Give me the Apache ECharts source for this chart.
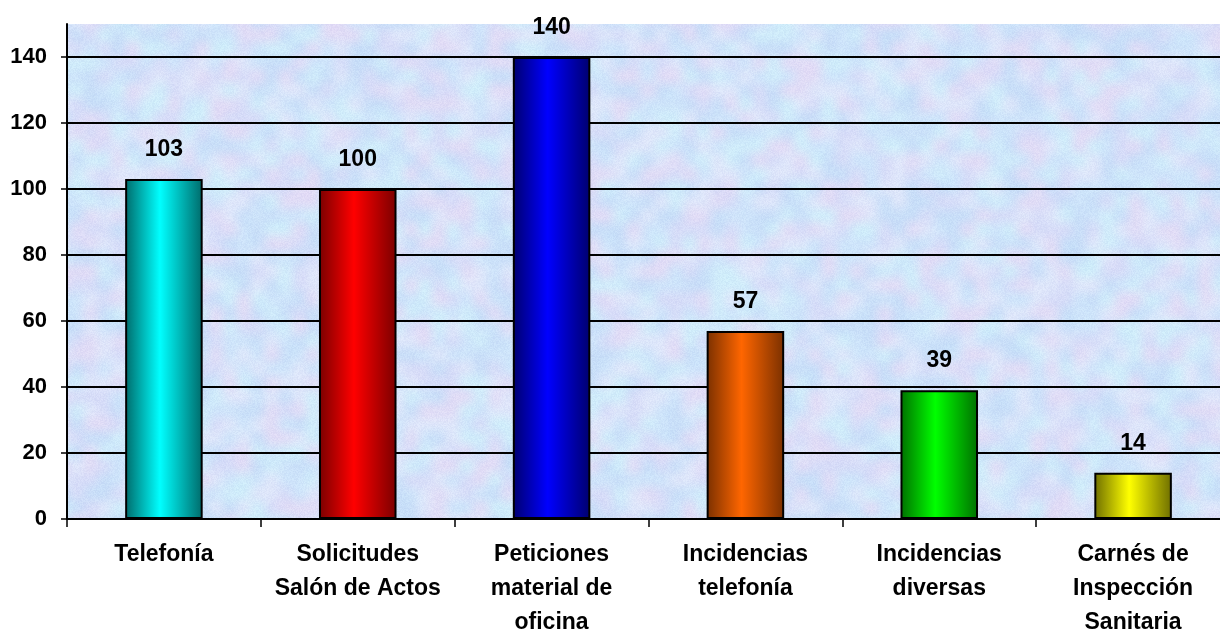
<!DOCTYPE html>
<html>
<head>
<meta charset="utf-8">
<script src="https://cdn.jsdelivr.net/npm/echarts@6/dist/echarts.min.js"></script>
<style>
  html, body { margin: 0; padding: 0; background: #ffffff; }
  #chart { width: 1220px; height: 633px; }
</style>
</head>
<body>
<div id="chart"></div>
<script>
// Requests handled per service area
const categories = [
  'Telefonía',
  'Solicitudes\nSalón de Actos',
  'Peticiones\nmaterial de\noficina',
  'Incidencias\ntelefonía',
  'Incidencias\ndiversas',
  'Carnés de\nInspección\nSanitaria'
];
const values = [103, 100, 140, 57, 39, 14];
const yTicks = [0, 20, 40, 60, 80, 100, 120, 140];

// Bar shades: [edge, centre]
const barShades = [
  ['#006a6a', '#00ffff'],
  ['#7a0000', '#ff0000'],
  ['#00006e', '#0000ff'],
  ['#7a3000', '#ff6600'],
  ['#007000', '#00ff00'],
  ['#6e6e00', '#ffff00']
];

// Soft pastel "stationery" texture for the plotting area (seeded, so it is the same every time)
function makeTexture(w, h) {
  let s = 12345;
  const rnd = () => { s = (s * 1103515245 + 12345) & 0x7fffffff; return s / 0x7fffffff; };
  const palette = [[206, 228, 250], [214, 220, 248], [224, 220, 246], [208, 236, 250], [200, 222, 248], [222, 230, 250]];
  const cell = 14;
  const small = document.createElement('canvas');
  const sw = Math.ceil(w / cell), sh = Math.ceil(h / cell);
  small.width = sw; small.height = sh;
  const sctx = small.getContext('2d');
  const sd = sctx.createImageData(sw, sh);
  for (let i = 0; i < sw * sh; i++) {
    const c = palette[Math.floor(rnd() * palette.length)];
    sd.data[i * 4] = c[0]; sd.data[i * 4 + 1] = c[1]; sd.data[i * 4 + 2] = c[2]; sd.data[i * 4 + 3] = 255;
  }
  sctx.putImageData(sd, 0, 0);
  const cv = document.createElement('canvas');
  cv.width = w; cv.height = h;
  const ctx = cv.getContext('2d');
  ctx.imageSmoothingEnabled = true;
  ctx.imageSmoothingQuality = 'high';
  ctx.drawImage(small, 0, 0, w, h);
  const img = ctx.getImageData(0, 0, w, h);
  for (let i = 0; i < w * h; i++) {
    const n = (rnd() - 0.5) * 12;
    img.data[i * 4] = Math.max(0, Math.min(255, img.data[i * 4] + n));
    img.data[i * 4 + 1] = Math.max(0, Math.min(255, img.data[i * 4 + 1] + n));
    img.data[i * 4 + 2] = Math.max(0, Math.min(255, img.data[i * 4 + 2] + n * 0.5));
  }
  ctx.putImageData(img, 0, 0);
  return cv;
}

const FONT = '"Liberation Sans", Arial, sans-serif';
const chart = echarts.init(document.getElementById('chart'), null, { renderer: 'canvas' });

chart.setOption({
  animation: false,
  backgroundColor: '#ffffff',
  grid: {
    left: 67, top: 24, width: 1163, height: 495,
    outerBoundsMode: 'none',
    containLabel: false,
    show: true,
    borderWidth: 0,
    backgroundColor: { image: makeTexture(1240, 640), repeat: 'no-repeat' }
  },
  xAxis: {
    type: 'category',
    data: categories,
    axisLine: { lineStyle: { color: '#000', width: 2 } },
    axisTick: { show: true, alignWithLabel: false, length: 8, lineStyle: { color: '#000', width: 1.5 } },
    axisLabel: {
      interval: 0, margin: 19, color: '#000',
      fontFamily: FONT, fontWeight: 'bold', fontSize: 23, lineHeight: 34
    }
  },
  yAxis: {
    type: 'value',
    min: 0, max: 150, interval: 20,
    axisLine: { show: true, lineStyle: { color: '#000', width: 2 } },
    axisTick: { show: true, length: 6, customValues: yTicks, lineStyle: { color: '#000', width: 1.5 } },
    axisLabel: {
      customValues: yTicks, margin: 20, color: '#000',
      fontFamily: FONT, fontWeight: 'bold', fontSize: 22
    },
    splitLine: { show: true, lineStyle: { color: '#000', width: 2 } }
  },
  series: [{
    type: 'bar',
    barWidth: '40%',
    data: values.map((v, i) => ({
      value: v,
      itemStyle: {
        color: {
          type: 'linear', x: 0, y: 0, x2: 1, y2: 0,
          colorStops: [
            { offset: 0, color: barShades[i][0] },
            { offset: 0.45, color: barShades[i][1] },
            { offset: 1, color: barShades[i][0] }
          ]
        },
        borderColor: '#000', borderWidth: 2
      }
    })),
    label: {
      show: true, position: 'top', distance: 18, color: '#000',
      fontFamily: FONT, fontWeight: 'bold', fontSize: 23
    }
  }]
});
</script>
</body>
</html>
